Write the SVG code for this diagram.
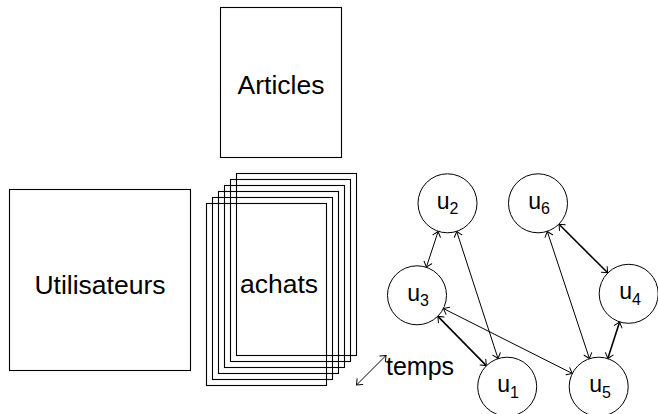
<svg xmlns="http://www.w3.org/2000/svg" width="658" height="414" viewBox="0 0 658 414">
<defs>
<marker id="tip" viewBox="-6 -5 8 10" markerWidth="8" markerHeight="10" refX="0" refY="0" orient="auto-start-reverse" markerUnits="userSpaceOnUse">
<path d="M -4.8 -4 Q -1.2 -1 0 0 Q -1.2 1 -4.8 4" fill="none" stroke="#000" stroke-width="1" stroke-linecap="round"/>
</marker>
</defs>
<style>
.box{fill:none;stroke:#000;stroke-width:1.1}
.node{fill:#fff;stroke:#000;stroke-width:1}
.lbl{font-family:"Liberation Sans",Arial,sans-serif;font-size:26.5px;fill:#000;text-anchor:middle}
.ul{font-family:"Liberation Sans",Arial,sans-serif;font-size:23px;fill:#000;text-anchor:middle}
.sub{font-size:16px}
.edge{fill:none;stroke:#000;stroke-width:1;marker-start:url(#tip);marker-end:url(#tip)}
.bold{stroke-width:1.6}
</style>
<g id="articles">
<rect class="box" x="220.5" y="7.5" width="121" height="150"/>
<text class="lbl" x="281" y="94">Articles</text>
</g>
<g id="utilisateurs">
<rect class="box" x="9.5" y="189.5" width="181" height="181"/>
<text class="lbl" x="100" y="294">Utilisateurs</text>
</g>
<g id="achats">
<rect class="box" x="236.5" y="173.5" width="120" height="182"/>
<rect class="box" x="230.5" y="179.5" width="120" height="182"/>
<rect class="box" x="224.5" y="185.5" width="120" height="182"/>
<rect class="box" x="218.5" y="191.5" width="120" height="182"/>
<rect class="box" x="212.5" y="197.5" width="120" height="182"/>
<rect class="box" x="206.5" y="203.5" width="120" height="182"/>
<text class="lbl" x="279" y="293">achats</text>
</g>
<g id="temps">
<line class="edge" x1="356.5" y1="385" x2="386" y2="355.5"/>
<text class="lbl" x="386" y="375" style="text-anchor:start;font-size:25px">temps</text>
</g>
<g id="connectors">
<line class="edge" x1="438.1" y1="231.5" x2="426.4" y2="267.1"/>
<line class="edge" x1="456.7" y1="231.5" x2="498.0" y2="358.5"/>
<line class="edge bold" x1="437.9" y1="316.4" x2="486.3" y2="365.6"/>
<line class="edge" x1="443.5" y1="308.6" x2="572.2" y2="373.4"/>
<line class="edge" x1="547.3" y1="231.5" x2="589.4" y2="358.5"/>
<line class="edge bold" x1="559" y1="224.3" x2="607.7" y2="272.8"/>
<line class="edge bold" x1="619.6" y1="322.1" x2="607.8" y2="358.4"/>
</g>
<g id="u1">
<circle class="node" cx="507.2" cy="386.7" r="29.5"/>
<text class="ul" x="508" y="392.2">u<tspan class="sub" dy="5.5">1</tspan></text>
</g>
<g id="u2">
<circle class="node" cx="447.5" cy="203.3" r="29.5"/>
<text class="ul" x="447.5" y="208.8">u<tspan class="sub" dy="5.5">2</tspan></text>
</g>
<g id="u3">
<circle class="node" cx="417" cy="295.3" r="29.5"/>
<text class="ul" x="418" y="300.8">u<tspan class="sub" dy="5.5">3</tspan></text>
</g>
<g id="u4">
<circle class="node" cx="628.7" cy="293.8" r="29.5"/>
<text class="ul" x="630" y="299.3">u<tspan class="sub" dy="5.5">4</tspan></text>
</g>
<g id="u5">
<circle class="node" cx="598.7" cy="386.7" r="29.5"/>
<text class="ul" x="600" y="392.2">u<tspan class="sub" dy="5.5">5</tspan></text>
</g>
<g id="u6">
<circle class="node" cx="538" cy="203.3" r="29.5"/>
<text class="ul" x="539" y="208.8">u<tspan class="sub" dy="5.5">6</tspan></text>
</g>
</svg>
